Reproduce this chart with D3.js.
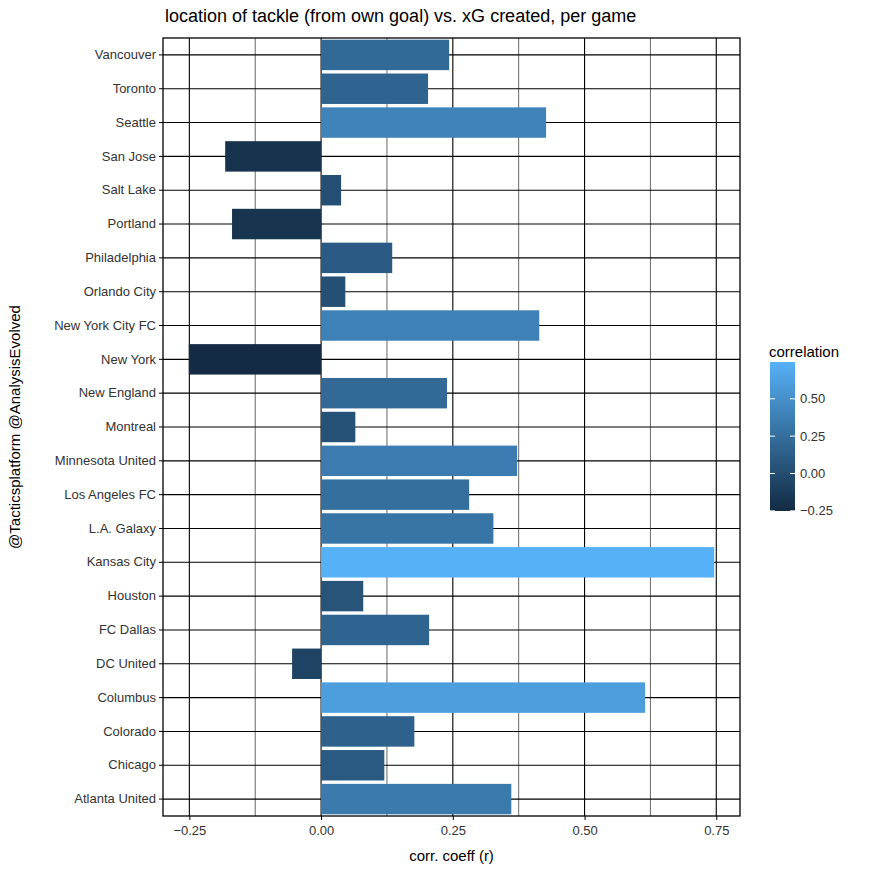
<!DOCTYPE html>
<html><head><meta charset="utf-8">
<script src="https://cdn.jsdelivr.net/npm/d3@7"></script>
<style>body{margin:0;background:#fff}text{font-family:"Liberation Sans",Arial,sans-serif}</style>
</head><body><svg id="c" width="873" height="874"></svg>
<script>
const teams=["Vancouver","Toronto","Seattle","San Jose","Salt Lake","Portland","Philadelphia","Orlando City","New York City FC","New York","New England","Montreal","Minnesota United","Los Angeles FC","L.A. Galaxy","Kansas City","Houston","FC Dallas","DC United","Columbus","Colorado","Chicago","Atlanta United"];
const corr=[0.243,0.203,0.427,-0.182,0.038,-0.169,0.135,0.046,0.414,-0.251,0.239,0.065,0.372,0.281,0.327,0.746,0.080,0.205,-0.055,0.615,0.177,0.120,0.361];
const xTicks=[-0.25,0,0.25,0.5,0.75];
const legendTicks=[-0.25,0,0.25,0.5];

const svg=d3.select("#c");
const L=163,R=740,T=38,B=816;
const x=d3.scaleLinear().domain([-0.30,0.795]).range([L,R]);
const y=d3.scaleBand().domain(teams).range([T,B]).paddingInner(0.1).paddingOuter(0.05);
const ext=d3.extent(corr);
const col=d3.scaleLinear().domain(ext).range(["#132B43","#56B1F7"]).interpolate(d3.interpolateLab);

// grid
const minor=[-0.125,0.125,0.375,0.625];
svg.append("g").selectAll("line").data(minor).join("line")
 .attr("x1",d=>x(d)).attr("x2",d=>x(d)).attr("y1",T).attr("y2",B).attr("stroke","#000").attr("stroke-width",0.6);
svg.append("g").selectAll("line").data(xTicks).join("line")
 .attr("x1",d=>x(d)).attr("x2",d=>x(d)).attr("y1",T).attr("y2",B).attr("stroke","#000").attr("stroke-width",1.1);
svg.append("g").selectAll("line").data(teams).join("line")
 .attr("x1",L).attr("x2",R).attr("y1",d=>y(d)+y.bandwidth()/2).attr("y2",d=>y(d)+y.bandwidth()/2).attr("stroke","#000").attr("stroke-width",1.1);
// bars
svg.append("g").selectAll("rect").data(teams).join("rect")
 .attr("x",(d,i)=>x(Math.min(0,corr[i]))).attr("width",(d,i)=>Math.abs(x(corr[i])-x(0)))
 .attr("y",d=>y(d)).attr("height",y.bandwidth()).attr("fill",(d,i)=>col(corr[i]));
svg.append("rect").attr("x",L).attr("y",T).attr("width",R-L).attr("height",B-T).attr("fill","none").attr("stroke","#000").attr("stroke-width",1.3);

// axes
const xa=svg.append("g").attr("transform",`translate(0,${B})`).call(d3.axisBottom(x).tickValues(xTicks).tickFormat(d3.format(".2f")).tickSize(4));
xa.select(".domain").remove();
xa.selectAll("text").attr("font-size",13).attr("fill","#333").attr("dy","0.9em");
const ya=svg.append("g").attr("transform",`translate(${L},0)`).call(d3.axisLeft(y).tickSize(4));
ya.select(".domain").remove();
ya.selectAll("text").attr("font-size",13).attr("fill","#333");

svg.append("text").attr("x",L+2).attr("y",22).attr("font-size",18).text("location of tackle (from own goal) vs. xG created, per game");
svg.append("text").attr("x",(L+R)/2).attr("y",861).attr("text-anchor","middle").attr("font-size",15).text("corr. coeff (r)");
svg.append("text").attr("transform",`translate(20,${(T+B)/2}) rotate(-90)`).attr("text-anchor","middle").attr("font-size",15).text("@Tacticsplatform @AnalysisEvolved");

// legend
const lx=770,lw=25;
const ly=d3.scaleLinear().domain([ext[1],ext[0]]).range([362,511]);
const defs=svg.append("defs");
const g=defs.append("linearGradient").attr("id","gr").attr("x1",0).attr("x2",0).attr("y1",0).attr("y2",1);
g.append("stop").attr("offset",0).attr("stop-color",col(ext[1]));
g.append("stop").attr("offset",1).attr("stop-color",col(ext[0]));
svg.append("rect").attr("x",lx).attr("y",ly(ext[1])).attr("width",lw).attr("height",ly(ext[0])-ly(ext[1])).attr("fill","url(#gr)");
svg.append("text").attr("x",lx-1).attr("y",357).attr("font-size",15).text("correlation");
legendTicks.forEach(t=>{
 svg.append("line").attr("x1",lx).attr("x2",lx+5).attr("y1",ly(t)).attr("y2",ly(t)).attr("stroke","#fff");
 svg.append("line").attr("x1",lx+lw-5).attr("x2",lx+lw).attr("y1",ly(t)).attr("y2",ly(t)).attr("stroke","#fff");
 svg.append("text").attr("x",lx+lw+5).attr("y",ly(t)).attr("dy","0.35em").attr("font-size",13).attr("fill","#333").text(d3.format(".2f")(t).replace("-","−"));
});
</script></body></html>
